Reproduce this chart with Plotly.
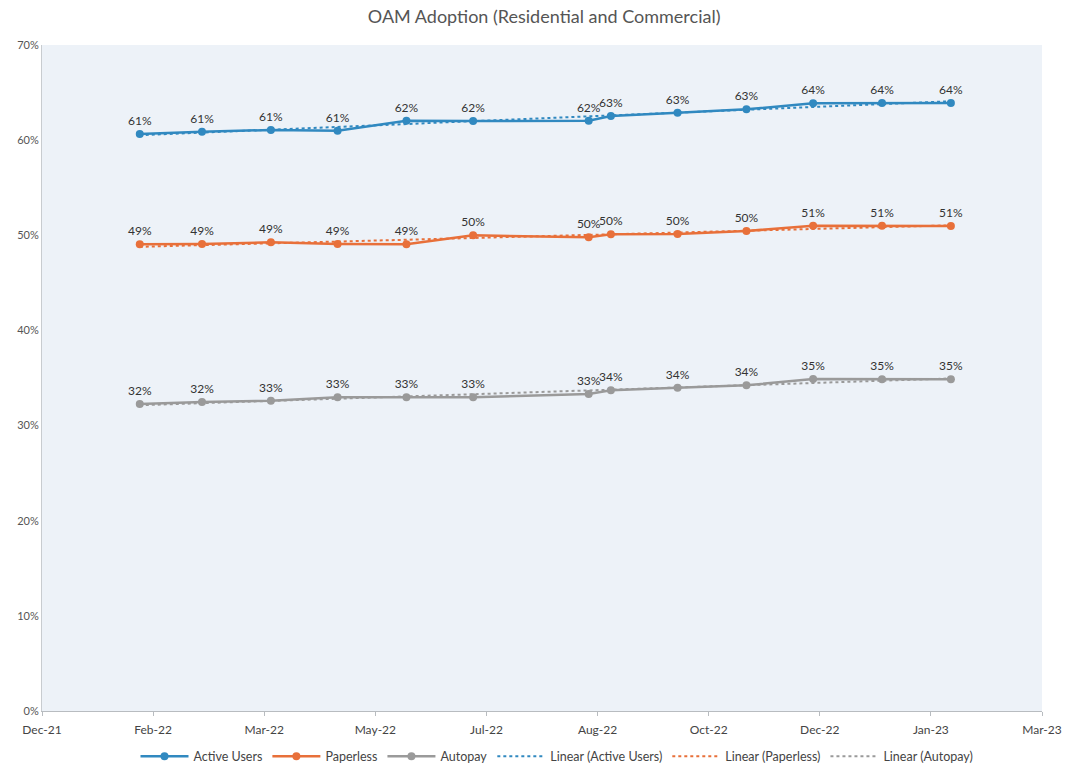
import numpy as np
import pandas as pd
import plotly.graph_objects as go

# Reporting dates (first of month, plus one mid-August reading)
dates = ["2022-02-01", "2022-03-01", "2022-04-01", "2022-05-01", "2022-06-01",
         "2022-07-01", "2022-08-22", "2022-09-01", "2022-10-01", "2022-11-01",
         "2022-12-01", "2023-01-01", "2023-02-01"]

# Adoption rates, percent
active_users = [60.65, 60.89, 61.07, 61.0, 62.05, 62.0, 62.05, 62.54, 62.89, 63.24, 63.87, 63.9, 63.9]
paperless = [49.05, 49.08, 49.26, 49.08, 49.05, 50.0, 49.79, 50.1, 50.14, 50.45, 51.0, 51.0, 50.98]
autopay = [32.27, 32.48, 32.62, 32.97, 32.97, 32.97, 33.32, 33.7, 33.98, 34.23, 34.9, 34.86, 34.86]

series_names = ["Active Users", "Paperless", "Autopay"]
series_values = [active_users, paperless, autopay]
series_colors = ["#3189c0", "#e8703a", "#9a9a9a"]

# Y axis ticks
y_ticks = [0, 10, 20, 30, 40, 50, 60, 70]
y_tick_labels = [f"{v}%" for v in y_ticks]

# Axis extent and major unit (days)
x_start = "2021-12-19"
x_end = "2023-03-14"
major_unit_days = 50

x = pd.to_datetime(dates)
days = (x - x[0]).days.values.astype(float)

fig = go.Figure()

for name, vals, col in zip(series_names, series_values, series_colors):
    fig.add_trace(go.Scatter(
        x=x, y=vals, name=name,
        mode="lines+markers+text",
        line=dict(color=col, width=2.5),
        marker=dict(color=col, size=8),
        texttemplate="%{y:.0f}%",
        textposition="top center",
        textfont=dict(family="Lato, sans-serif", size=12, color="#333333"),
        hoverinfo="skip",
    ))

# Linear trendlines fitted on elapsed days
for name, vals, col in zip(series_names, series_values, series_colors):
    slope, intercept = np.polyfit(days, np.array(vals), 1)
    trend = slope * days + intercept
    fig.add_trace(go.Scatter(
        x=x, y=trend, name=f"Linear ({name})",
        mode="lines",
        line=dict(color=col, width=2, dash="dot"),
        hoverinfo="skip",
    ))

tick_dates = pd.date_range(x_start, x_end, freq=f"{major_unit_days}D")

fig.update_layout(
    width=1067, height=769,
    margin=dict(l=42, r=25, t=45, b=58, autoexpand=False),
    paper_bgcolor="white",
    plot_bgcolor="#edf2f8",
    title=dict(
        text="OAM Adoption (Residential and Commercial)",
        x=0.51, xanchor="center", y=0.978, yanchor="middle",
        font=dict(family="Lato, sans-serif", size=18, color="#555555"),
    ),
    font=dict(family="Lato, sans-serif", size=11.5, color="#444444"),
    showlegend=True,
    legend=dict(
        orientation="h", x=0.515, xanchor="center",
        yref="container", y=0.016, yanchor="middle",
        font=dict(size=12.5, color="#444444"),
        bgcolor="rgba(0,0,0,0)",
        itemwidth=48,
    ),
    xaxis=dict(
        type="date",
        range=[x_start, x_end],
        tickvals=tick_dates,
        tickformat="%b-%y",
        showgrid=False,
        showline=True, linecolor="#b8bcc0", linewidth=1,
        ticks="outside", ticklen=4, tickcolor="#b8bcc0",
        tickfont=dict(size=12, color="#444444"),
        ticklabelstandoff=4,
    ),
    yaxis=dict(
        range=[0, 70],
        tickvals=y_ticks,
        ticktext=y_tick_labels,
        showgrid=False,
        zeroline=False,
        showline=True, linecolor="#c8ccd0", linewidth=1,
        tickfont=dict(size=11, color="#555555"),
    ),
)

fig.write_html("out.html")
